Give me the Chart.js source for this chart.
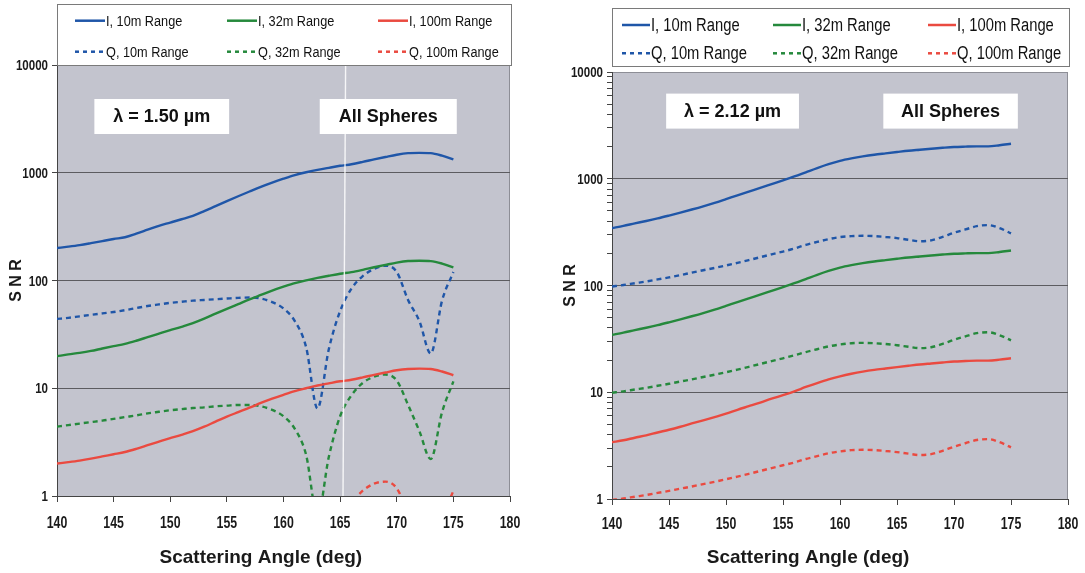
<!DOCTYPE html>
<html>
<head>
<meta charset="utf-8">
<script src="https://cdn.jsdelivr.net/npm/chart.js@4.4.1/dist/chart.umd.min.js"></script>
<style>
  html, body { margin: 0; padding: 0; background: #fff; }
  #wrap { position: relative; width: 1085px; height: 573px; overflow: hidden; }
  canvas { position: absolute; top: 0; }
</style>
</head>
<body>
<div id="wrap">
  <canvas id="snr150" width="545" height="573" style="left:0"></canvas>
  <canvas id="snr212" width="530" height="573" style="left:555px"></canvas>
</div>
<script>
// scattering angle (deg), shared by every curve
const angles = [140,141,142,143,144,145,146,147,148,149,150,151,152,153,154,155,156,157,
                158,159,160,161,162,163,164,165,166,167,168,169,170,171,172,173,174,175];

const xTicks = [140,145,150,155,160,165,170,175,180];
const yTickLabels = ['1','10','100','1000','10000'];

// λ = 1.50 µm
const i10_150  = [200,206,213,222,232,243,252,272,296,322,345,370,398,440,490,545,605,670,
                  740,810,880,950,1010,1065,1110,1160,1200,1260,1330,1400,1470,1520,1530,1520,1440,1330];
const i32_150  = [19.8,20.6,21.3,22.2,23.4,24.6,25.8,27.6,29.8,32.2,34.6,37.2,40.2,44.2,49.2,54.6,60.4,66.8,
                  73.4,80.6,87.6,94.6,100.4,105.8,110.6,115.4,119.6,125.6,132.6,139.6,146.6,151.6,152.6,151.4,143.6,132.4];
const i100_150 = [2.0,2.06,2.13,2.22,2.33,2.44,2.56,2.74,2.96,3.2,3.44,3.7,4.0,4.4,4.9,5.45,6.0,6.6,
                  7.3,8.0,8.7,9.4,10.0,10.6,11.1,11.6,12.0,12.6,13.3,14.0,14.7,15.1,15.2,15.1,14.3,13.2];
const q10_150  = [44,45,46.5,48,49.5,51,53,55.5,58,60,62,63.5,65,66,67,68,69,69.5,
                  68,63,55,42,24,6.5,23,52,84,110,128,137,120,66,42,21,65,120];
const q32_150  = [4.4,4.55,4.7,4.85,5.0,5.2,5.4,5.6,5.85,6.05,6.25,6.4,6.55,6.65,6.8,6.9,7.0,7.0,
                  6.8,6.3,5.5,4.2,2.4,0.65,2.3,5.5,8.6,11.2,12.8,13.4,11.8,7.0,4.0,2.2,6.0,11.6];
const q100_150 = [0.44,0.45,0.465,0.48,0.495,0.51,0.53,0.555,0.58,0.6,0.62,0.635,0.65,0.66,0.67,0.68,0.69,0.695,
                  0.68,0.63,0.55,0.42,0.24,0.065,0.23,0.52,0.85,1.12,1.3,1.36,1.18,0.7,0.43,0.21,0.6,1.12];

// λ = 2.12 µm
const i10_212  = [345,362,382,402,425,452,482,515,552,595,645,700,758,820,890,965,1050,1150,
                  1260,1370,1470,1550,1620,1680,1730,1780,1830,1870,1910,1950,1985,2000,2010,2010,2060,2130];
const i32_212  = [34.5,36.2,38.2,40.2,42.5,45.2,48.2,51.5,55.2,59.5,64.5,70,75.8,82,89,96.5,105,115,
                  126,137,147,155,162,168,173,178,183,187,191,195,198.5,200,201,201,206,213];
const i100_212 = [3.4,3.55,3.75,3.95,4.2,4.45,4.75,5.1,5.45,5.85,6.3,6.85,7.4,8.0,8.7,9.4,10.2,11.2,
                  12.2,13.2,14.1,14.9,15.6,16.2,16.7,17.2,17.7,18.2,18.6,19.0,19.4,19.6,19.8,19.8,20.2,20.8];
const q10_212  = [98,101,105,109,114,119,125,132,139,146,154,163,173,184,196,208,222,240,
                  256,272,284,290,292,290,285,278,268,260,265,285,312,335,360,368,345,308];
const q32_212  = [9.9,10.2,10.6,11.0,11.5,12.0,12.6,13.2,13.9,14.6,15.4,16.3,17.3,18.4,19.6,20.8,22.2,23.8,
                  25.3,26.9,28.0,28.8,29.0,28.8,28.3,27.6,26.7,25.9,26.4,28.4,31.0,33.4,35.8,36.5,34.2,30.6];
const q100_212 = [0.98,1.01,1.05,1.09,1.14,1.19,1.25,1.31,1.38,1.45,1.53,1.62,1.72,1.83,1.95,2.07,2.2,2.37,
                  2.52,2.68,2.79,2.87,2.89,2.87,2.82,2.75,2.66,2.58,2.63,2.83,3.09,3.33,3.57,3.64,3.41,3.05];

const seriesLabels = ['I, 10m Range','I, 32m Range','I, 100m Range','Q, 10m Range','Q, 32m Range','Q, 100m Range'];
const BLUE = '#1f56a8', GREEN = '#25893c', RED = '#ea4a40';
const SANS = "'Liberation Sans', Arial, sans-serif";

function toPoints(arr) {
  return angles.map((a, i) => ({ x: a, y: arr[i] }));
}

function makeDatasets(list) {
  const colors = [BLUE, GREEN, RED, BLUE, GREEN, RED];
  return list.map((arr, i) => ({
    label: seriesLabels[i],
    data: toPoints(arr),
    borderColor: colors[i],
    backgroundColor: colors[i],
    borderWidth: 2.4,
    borderDash: i < 3 ? [] : [5, 4],
    pointRadius: 0,
    cubicInterpolationMode: 'monotone',
    fill: false
  }));
}

// text squeezed horizontally around its anchor (condensed look)
function narrowText(ctx, text, x, y, align, squeeze) {
  ctx.save();
  ctx.translate(x, y);
  ctx.scale(squeeze, 1);
  ctx.textAlign = align;
  ctx.fillText(text, 0, 0);
  ctx.restore();
}

// gray plot area + outline, and optional light seam line
const plotBackground = {
  id: 'plotBackground',
  beforeDraw(chart, args, opts) {
    const { ctx, chartArea: a } = chart;
    ctx.save();
    ctx.fillStyle = '#c3c4ce';
    ctx.fillRect(a.left, a.top, a.right - a.left, a.bottom - a.top);
    ctx.strokeStyle = '#8d8e96';
    ctx.lineWidth = 1;
    ctx.strokeRect(a.left + 0.5, a.top + 0.5, a.right - a.left - 1, a.bottom - a.top);
    ctx.restore();
  },
  afterDatasetsDraw(chart, args, opts) {
    if (!opts.seam) return;
    const { ctx, chartArea: a } = chart;
    ctx.save();
    ctx.strokeStyle = 'rgba(255,255,255,0.85)';
    ctx.lineWidth = 1.4;
    ctx.beginPath();
    ctx.moveTo(a.left + opts.seam[0], 0);
    ctx.lineTo(a.left + opts.seam[1], a.bottom);
    ctx.stroke();
    ctx.restore();
  }
};

// 3 x 2 legend box above the plot
const gridLegend = {
  id: 'gridLegend',
  afterDraw(chart, args, opts) {
    const { ctx, chartArea: a } = chart;
    const left = a.left, right = a.right + 2, top = opts.top, bottom = opts.bottom;
    ctx.save();
    ctx.fillStyle = '#fff';
    ctx.fillRect(left, top, right - left, bottom - top);
    ctx.strokeStyle = '#7a7a7a';
    ctx.lineWidth = 1;
    ctx.strokeRect(left + 0.5, top + 0.5, right - left - 1, bottom - top - 1);
    ctx.font = `${opts.fontSize}px ${SANS}`;
    ctx.textBaseline = 'middle';
    ctx.fillStyle = '#111';
    chart.data.datasets.forEach((ds, i) => {
      const col = i % 3, row = Math.floor(i / 3);
      const x = left + opts.cols[col], y = opts.rows[row];
      ctx.strokeStyle = ds.borderColor;
      ctx.lineWidth = 2.5;
      ctx.setLineDash(i < 3 ? [] : [4, 4]);
      ctx.beginPath();
      ctx.moveTo(x, y);
      ctx.lineTo(x + opts.lineLen, y);
      ctx.stroke();
      ctx.setLineDash([]);
      narrowText(ctx, ds.label, x + opts.lineLen + 1, y + 1, 'left', 0.82);
    });
    ctx.restore();
  }
};

// tick labels, white note boxes and the x axis title
const notes = {
  id: 'notes',
  afterDraw(chart, args, opts) {
    const { ctx, chartArea: a, scales } = chart;
    ctx.save();
    ctx.fillStyle = '#1a1a1a';
    ctx.textBaseline = 'middle';
    ctx.font = `bold 16px ${SANS}`;
    xTicks.forEach(v => narrowText(ctx, String(v), scales.x.getPixelForValue(v), opts.xLabelY, 'center', 0.77));
    ctx.font = `bold 15px ${SANS}`;
    yTickLabels.forEach(l => narrowText(ctx, l, a.left - 9, scales.y.getPixelForValue(Number(l)) + 1, 'right', 0.77));

    opts.boxes.forEach(b => {
      const x0 = scales.x.getPixelForValue(b.from), x1 = scales.x.getPixelForValue(b.to);
      const y0 = a.top + b.top;
      ctx.fillStyle = '#fff';
      ctx.fillRect(x0, y0, x1 - x0, b.height);
      ctx.fillStyle = '#111';
      ctx.font = `bold 18px ${SANS}`;
      ctx.textAlign = 'center';
      ctx.fillText(b.text, (x0 + x1) / 2, y0 + b.height / 2 + 1);
    });
    ctx.font = `bold 19px ${SANS}`;
    ctx.fillStyle = '#1a1a1a';
    ctx.textAlign = 'center';
    ctx.fillText(opts.xTitle, scales.x.getPixelForValue(opts.xTitleAt), opts.xTitleY);
    ctx.restore();
  }
};

function makeChart(id, series, cfg) {
  const decades = yTickLabels.map(Number);
  new Chart(document.getElementById(id), {
    type: 'line',
    data: { datasets: makeDatasets(series) },
    options: {
      responsive: false,
      animation: false,
      layout: { padding: { top: cfg.top, right: cfg.right, bottom: 0, left: 0 } },
      scales: {
        x: {
          type: 'linear', min: 140, max: 180,
          afterBuildTicks: s => { s.ticks = xTicks.map(v => ({ value: v })); },
          ticks: { display: false },
          grid: { drawOnChartArea: false, tickLength: 6, color: '#444' },
          border: { color: '#444', width: 1 },
          afterFit: s => { s.height = cfg.xHeight; }
        },
        y: {
          type: 'logarithmic', min: 1, max: 10000,
          afterBuildTicks: s => {
            const t = [];
            decades.forEach(d => {
              if (cfg.minor && d < 10000) {
                for (let k = 1; k < 10; k++) t.push({ value: d * k });
              } else t.push({ value: d });
            });
            s.ticks = t;
          },
          ticks: { display: false, autoSkip: false },
          grid: {
            color: c => (c.tick && decades.includes(c.tick.value) && c.tick.value > 1 && c.tick.value < 10000) ? '#5c5c60' : 'rgba(0,0,0,0)',
            tickColor: '#444', tickLength: 5, lineWidth: 1
          },
          border: { color: '#444', width: 1 },
          title: { display: true, text: 'S N R', color: '#1a1a1a', font: { family: SANS, size: 16, weight: 'bold' }, padding: { top: cfg.titlePad, bottom: 0 } },
          afterFit: s => { s.width = 57; }
        }
      },
      plugins: {
        legend: { display: false },
        tooltip: { enabled: false },
        plotBackground: { seam: cfg.seam },
        gridLegend: cfg.legend,
        notes: { boxes: cfg.boxes, xTitle: 'Scattering Angle (deg)', xTitleAt: cfg.xTitleAt, xTitleY: 558, xLabelY: cfg.xLabelY }
      }
    },
    plugins: [plotBackground, gridLegend, notes]
  });
}

makeChart('snr150', [i10_150, i32_150, i100_150, q10_150, q32_150, q100_150], {
  top: 65, right: 35, xHeight: 77, titlePad: 7, minor: false, xLabelY: 524,
  seam: [289, 286],
  legend: { top: 4, bottom: 66, cols: [18, 170, 321], rows: [20.7, 51.7], lineLen: 30, fontSize: 15.5 },
  boxes: [
    { text: 'λ = 1.50 µm', from: 143.3, to: 155.2, top: 34, height: 35 },
    { text: 'All Spheres', from: 163.2, to: 175.3, top: 34, height: 35 }
  ],
  xTitleAt: 158
});

makeChart('snr212', [i10_212, i32_212, i100_212, q10_212, q32_212, q100_212], {
  top: 72, right: 17, xHeight: 74, titlePad: 6, minor: true, xLabelY: 525,
  seam: null,
  legend: { top: 8, bottom: 67, cols: [10, 161, 316], rows: [25, 53.3], lineLen: 28, fontSize: 18 },
  boxes: [
    { text: 'λ = 2.12 µm', from: 144.75, to: 156.4, top: 21.6, height: 35 },
    { text: 'All Spheres', from: 163.8, to: 175.6, top: 21.6, height: 35 }
  ],
  xTitleAt: 157.2
});
</script>
</body>
</html>
